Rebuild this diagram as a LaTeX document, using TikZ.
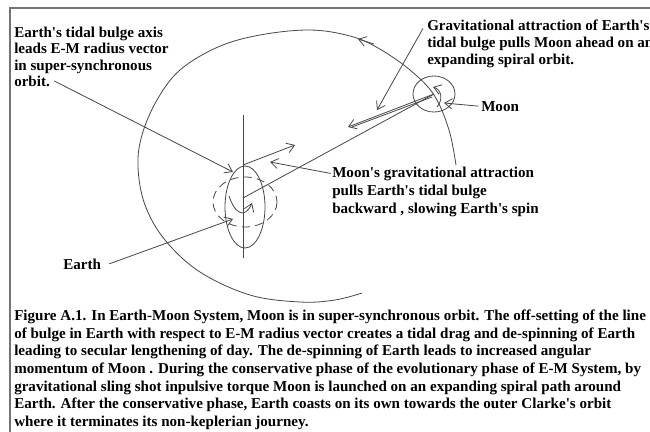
\documentclass[tikz,border=0pt]{standalone}
\usepackage{fontspec}
\setmainfont{Liberation Serif}
\usetikzlibrary{arrows.meta}
\newcommand\aps{\textquotesingle}
\begin{document}
\begin{tikzpicture}[x=0.75pt,y=-0.75pt,
  ln/.style={draw=black!72,line width=0.6pt},
  arr/.style={ln,-{Straight Barb[length=5.5pt,width=7.5pt]}},
  txt/.style={inner sep=0pt,anchor=base west,font=\fontsize{11.3pt}{12pt}\selectfont\bfseries}]
\useasboundingbox (0,0) rectangle (650,432);
\clip (0,0) rectangle (650,432);
\fill[white] (0,0) rectangle (650,432);
% frame
\draw[draw=black!55,line width=1.1pt] (10,432) -- (10,8) -- (651,8);
% key points
\coordinate (E) at (243,198);
\coordinate (Etop) at (243,165);
\coordinate (M) at (434,94);
% orbit (spiral)
\draw[ln] plot[smooth,tension=0.6] coordinates {(456,165) (449,130) (434,95) (410,70) (378,48) (350,36) (310,30) (260,35) (218,47) (180,70) (157,100) (142,135) (138,167) (145,205) (165,240) (200,272) (250,295) (300,302) (335,300) (362,293)};
\coordinate (oa1) at (374,44);
\coordinate (oa2) at (358,39);
\draw[arr] (oa1) -- (oa2);
% Earth
\draw[ln] (245,207) ellipse [x radius=20,y radius=41];
\draw[ln,dash pattern=on 6pt off 4pt] (245,202) ellipse [x radius=32,y radius=25];
\coordinate (axT) at (243,115);
\coordinate (axB) at (243,258);
\draw[ln] (axT) -- (axB);
\coordinate (sp1) at (229,196);
\coordinate (sp2) at (252,203);
\draw[arr] (sp1) .. controls (233,208) and (238,213) .. (243,213) .. controls (247,212) and (250,208) .. (sp2);
% Moon
\draw[ln] (M) ellipse [x radius=21,y radius=18];
\coordinate (ms1) at (437,107);
\coordinate (ms2) at (433,87);
\draw[arr] (ms1) .. controls (443,100) and (442,90) .. (ms2);
% radius vector
\draw[ln] (E) -- (M);
% bulge lead arrow
\coordinate (bl) at (295,145);
\draw[arr] (Etop) -- (bl);
% moon pulls bulge
\coordinate (mp) at (348,127);
\draw[arr] (M) -- (mp);
\draw[ln] (432,97) -- (352,127);
% texts
\node[txt] (tl1) at (14,37) {Earth\aps s tidal bulge axis};
\node[txt] (tl2) at (14,53) {leads E-M radius vector};
\node[txt] (tl3) at (14,70) {in super-synchronous};
\node[txt] (tl4) at (14,86) {orbit.};
\node[txt] (gr1) at (427,31) {Gravitational attraction of Earth\aps s};
\node[txt] (gr2) at (427,47) {tidal bulge pulls Moon ahead on an};
\node[txt] (gr3) at (427,64) {expanding spiral orbit.};
\node[txt] (ml) at (481,111) {Moon};
\node[txt] (mg1) at (332,177) {Moon\aps s gravitational attraction};
\node[txt] (mg2) at (332,195) {pulls Earth\aps s tidal bulge};
\node[txt] (mg3) at (332,213) {backward , slowing Earth\aps s spin};
\node[txt] (el) at (63,269) {Earth};
% pointers
\coordinate (t1) at (233,172);
\draw[arr] ([xshift=3pt]tl4.east) -- (t1);
\coordinate (t2) at (377,110);
\draw[arr] ([xshift=-3pt,yshift=-2pt]gr1.west) -- (t2);
\coordinate (t3) at (444,103);
\draw[arr] ([xshift=-2pt]ml.west) -- (t3);
\coordinate (t4) at (270,162);
\draw[arr] ([xshift=-1pt]mg1.west) -- (t4);
\coordinate (t5) at (233,219);
\draw[arr] ([xshift=6pt]el.east) -- (t5);
% caption
\node[txt] (c1) at (14,320) {Figure A.1. In Earth-Moon System, Moon is in super-synchronous orbit. The off-setting of the line};
\node[txt] (c2) at (14,338) {of bulge in Earth with respect to E-M radius vector creates a tidal drag and de-spinning of Earth};
\node[txt] (c3) at (14,355) {leading to secular lengthening of day. The de-spinning of Earth leads to increased angular};
\node[txt] (c4) at (14,373) {momentum of Moon . During the conservative phase of the evolutionary phase of E-M System, by};
\node[txt] (c5) at (14,391) {gravitational sling shot inpulsive torque Moon is launched on an expanding spiral path around};
\node[txt] (c6) at (14,408) {Earth. After the conservative phase, Earth coasts on its own towards the outer Clarke\aps s orbit};
\node[txt] (c7) at (14,426) {where it terminates its non-keplerian journey.};
\end{tikzpicture}
\end{document}
